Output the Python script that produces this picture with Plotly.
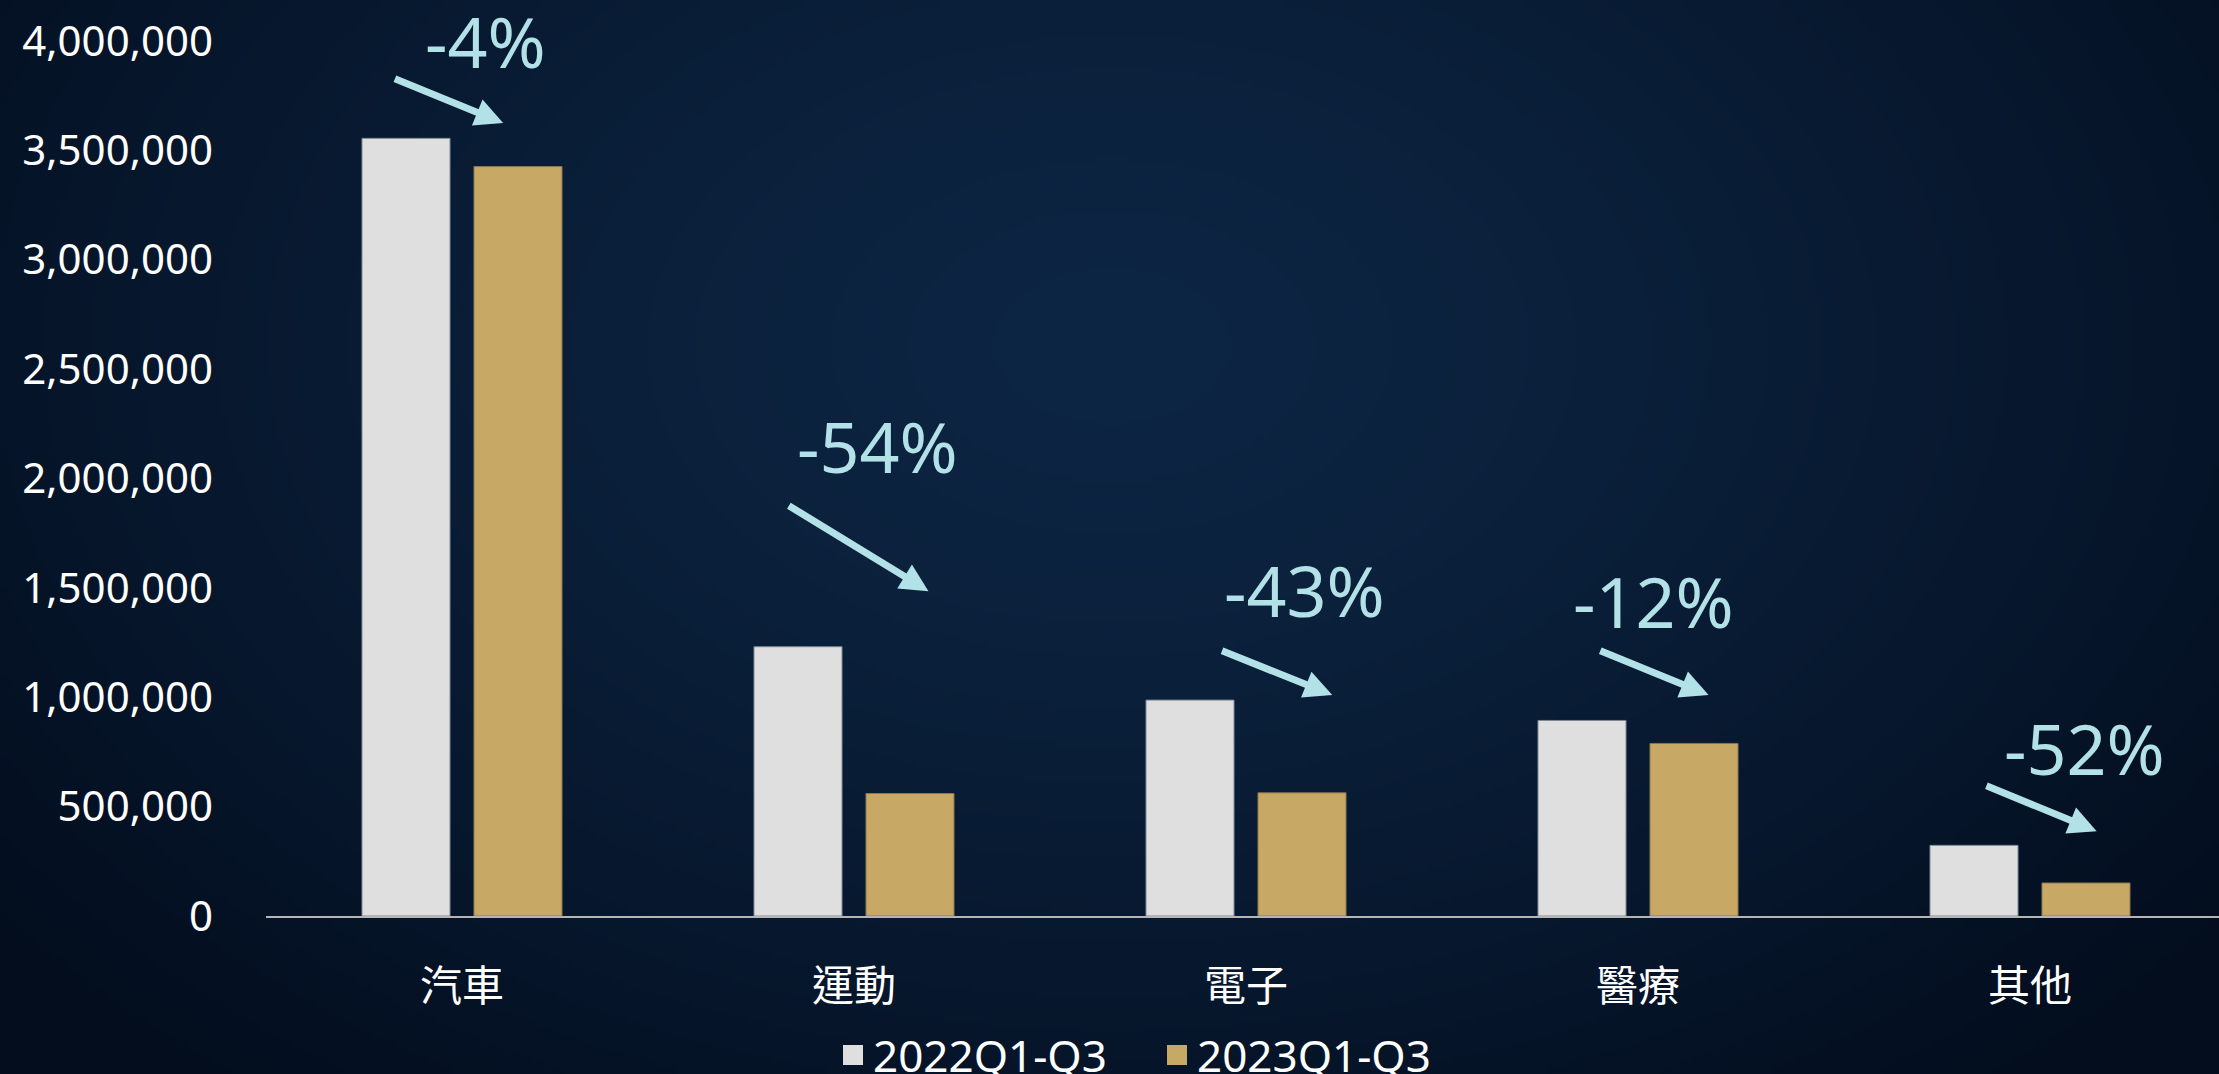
import base64
import struct
import zlib

import numpy as np
import plotly.graph_objects as go

# data
categories = ['汽車', '運動', '電子', '醫療', '其他']
series_names = ['2022Q1-Q3', '2023Q1-Q3']
values_2022 = [3555000, 1231000, 987000, 894000, 323000]
values_2023 = [3426000, 560000, 563000, 789000, 151000]
change_labels = ['-4%', '-54%', '-43%', '-12%', '-52%']
y_ticks = [0, 500000, 1000000, 1500000, 2000000, 2500000, 3000000, 3500000, 4000000]

# page geometry
W, H = 2219, 1074
M_L, M_R, M_T, M_B = 266, 0, 41, 158
FONT = 'Noto Sans, Noto Sans CJK TC, sans-serif'
CYAN = '#b3e1e8'

# label centre (dx from category, y value) and arrow tail/tip (dx, y)
label_pos = [(0.06, 4000000), (0.06, 2150000), (0.15, 1490000), (0.04, 1440000), (0.14, 770000)]
arrow_tail = [(-0.175, 3830000), (-0.17, 1880000), (-0.065, 1215000), (-0.10, 1215000), (-0.115, 598000)]
arrow_tip = [(0.105, 3625000), (0.19, 1485000), (0.22, 1010000), (0.18, 1010000), (0.17, 388000)]


def png_uri(arr):
    h, w, _ = arr.shape
    raw = b''.join(b'\x00' + arr[i].tobytes() for i in range(h))

    def chunk(tag, data):
        c = struct.pack('>I', len(data)) + tag + data
        return c + struct.pack('>I', zlib.crc32(tag + data) & 0xffffffff)

    png = (b'\x89PNG\r\n\x1a\n'
           + chunk(b'IHDR', struct.pack('>IIBBBBB', w, h, 8, 2, 0, 0, 0))
           + chunk(b'IDAT', zlib.compress(raw, 9))
           + chunk(b'IEND', b''))
    return 'data:image/png;base64,' + base64.b64encode(png).decode()


def background():
    w, h = 444, 215
    yy, xx = np.mgrid[0:h, 0:w]
    dx = (xx / w - 0.5) / 0.65
    dy = (yy / h - 0.32) / 0.9
    t = np.clip(np.sqrt(dx ** 2 + dy ** 2), 0, 1) ** 1.3
    inner = np.array([13, 38, 68], float)
    outer = np.array([3, 13, 29], float)
    img = inner[None, None, :] * (1 - t[..., None]) + outer[None, None, :] * t[..., None]
    return png_uri(img.astype(np.uint8))


fig = go.Figure()
fig.add_trace(go.Bar(
    x=categories, y=values_2022, name=series_names[0], showlegend=False,
    legendgroup='a', marker=dict(color='#dfdfdf', line=dict(color='#7d8796', width=1)),
))
fig.add_trace(go.Bar(
    x=categories, y=values_2023, name=series_names[1], showlegend=False,
    legendgroup='b', marker=dict(color='#c7a864', line=dict(color='#8a7650', width=1)),
))
# legend entries with bigger squares
for name, col, grp in [(series_names[0], '#dfdfdf', 'a'), (series_names[1], '#c7a864', 'b')]:
    fig.add_trace(go.Scatter(
        x=[None], y=[None], mode='markers', name=name, legendgroup=grp,
        marker=dict(symbol='square', size=16, color=col, line=dict(color=col, width=4)),
    ))

pw = W - M_L - M_R
ph = H - M_T - M_B
cat_w = 392
x_right = (pw / cat_w) - 0.5

annotations = []
for i, lab in enumerate(change_labels):
    annotations.append(dict(
        x=i + label_pos[i][0], y=label_pos[i][1], xref='x', yref='y',
        text=lab, showarrow=False, font=dict(size=70, color=CYAN, family=FONT),
        xanchor='center', yanchor='middle',
    ))
    annotations.append(dict(
        x=i + arrow_tip[i][0], y=arrow_tip[i][1], xref='x', yref='y',
        ax=i + arrow_tail[i][0], ay=arrow_tail[i][1], axref='x', ayref='y',
        text='', showarrow=True, arrowhead=2, arrowsize=0.8, arrowwidth=7,
        arrowcolor=CYAN,
    ))

fig.update_layout(
    width=W, height=H,
    margin=dict(l=M_L, r=M_R, t=M_T, b=M_B, pad=0, autoexpand=False),
    paper_bgcolor='#071a33',
    plot_bgcolor='rgba(0,0,0,0)',
    font=dict(family=FONT, color='white', size=42),
    barmode='group', bargap=0.4286, bargroupgap=0.214,
    showlegend=True,
    legend=dict(
        orientation='h', x=(833 - M_L) / pw, xanchor='left',
        y=(ph - (1020 - M_T)) / ph, yanchor='top',
        font=dict(size=44, color='white', family=FONT),
        entrywidth=279, entrywidthmode='pixels', bgcolor='rgba(0,0,0,0)',
        itemclick=False,
    ),
    annotations=annotations,
    images=[dict(
        source=background(), xref='paper', yref='paper',
        x=-M_L / pw, y=1 + M_T / ph, sizex=W / pw, sizey=H / ph,
        xanchor='left', yanchor='top', sizing='stretch', layer='below',
    )],
)

fig.update_xaxes(
    range=[-0.5, x_right], showgrid=False, zeroline=False,
    showline=True, linecolor='#b5b5b5', linewidth=2,
    ticks='', ticklabelstandoff=33, tickfont=dict(size=42, color='white'),
)
fig.update_yaxes(
    range=[0, 4000000], tickvals=y_ticks, tickformat=',',
    showgrid=False, zeroline=False, showline=False, ticks='',
    ticklabelstandoff=52, tickfont=dict(size=42, color='white'),
)

fig.write_html('out.html', config={'displayModeBar': False},
               post_script="document.body.style.margin='0';")
